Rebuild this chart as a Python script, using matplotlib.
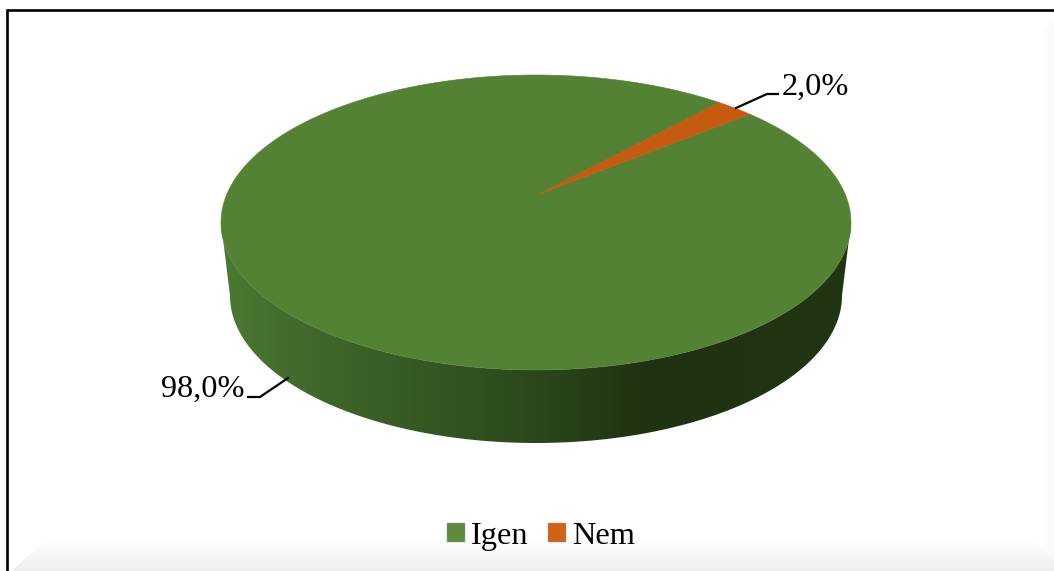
import numpy as np
import matplotlib
matplotlib.use("Agg")
import matplotlib.pyplot as plt
from matplotlib.patches import Patch, PathPatch
from matplotlib.path import Path
from matplotlib.colors import LinearSegmentedColormap

categories = ["Igen", "Nem"]
values = [98.0, 2.0]
top_colors = ["#548235", "#C55A11"]
legend_colors = ["#5C8D3D", "#D06315"]
side_stops = [(0.0, "#4C7A32"), (0.12, "#426A2B"), (0.45, "#2E4D1E"), (0.68, "#1F3212"), (1.0, "#213614")]

plt.rcParams["font.family"] = ["Liberation Serif", "DejaVu Serif"]
W, H = 1054, 571
fig = plt.figure(figsize=(W / 100, H / 100), dpi=100)
ax = fig.add_axes([0, 0, 1, 1])
ax.axis("off")

# bevelled background
yy, xx = np.mgrid[0:H, 0:W] + 0.5
bottom = np.clip((yy - 530) / 41, 0, 1) ** 1.6 * 18
bottom_mask = (yy > 571 - (xx - 12) * 0.94) & (yy - 540 > (xx - 1035) * 1.0 - 0)
right = np.clip((xx - 1038) / 16, 0, 1) * 7
right_mask = (yy > 20 + (1054 - xx)) & ~bottom_mask
shade = np.where(bottom_mask, bottom, 0.0)
shade = np.where(right_mask, np.maximum(shade, right), shade)
bg = np.clip(255 - shade, 0, 255) / 255
ax.imshow(bg, cmap="gray", vmin=0, vmax=1, extent=(0, W, H, 0), aspect="auto", zorder=0)

# frame
ax.plot([7, 7, W], [H, 10, 10], color="black", lw=1.9, zorder=1, solid_joinstyle="miter")

# pie geometry
cx, cy, rx, ry = 536.0, 222.5, 315.0, 147.5
bcx, bcy, brx, bry = 536.0, 295.5, 306.0, 147.5
apex = (538.0, 194.5)
start = 47.2


def ell(a_deg, c_x=cx, c_y=cy, r_x=rx, r_y=ry):
    a = np.radians(a_deg)
    return c_x + r_x * np.cos(a), c_y - r_y * np.sin(a)


# side wall with horizontal gradient
a_top = np.linspace(180, 360, 200)
x1, y1 = ell(a_top)
x2, y2 = ell(a_top[::-1], bcx, bcy, brx, bry)
verts = np.column_stack([np.r_[x1, x2], np.r_[y1, y2]])
wall = Path(np.vstack([verts, verts[0]]), closed=True)
cmap = LinearSegmentedColormap.from_list("side", side_stops)
grad = ax.imshow(np.linspace(0, 1, 512)[None, :], cmap=cmap, extent=(cx - rx, cx + rx, bcy + bry, cy),
                 aspect="auto", zorder=2)
clip = PathPatch(wall, transform=ax.transData, fc="none", ec="none")
ax.add_patch(clip)
grad.set_clip_path(clip)
ax.set_xlim(0, W)
ax.set_ylim(H, 0)

# top slices: Nem starts at `start`, Igen takes the rest
sweeps = [v / sum(values) * 360 for v in values]
nem_a = np.linspace(start, start + sweeps[1], 30)
igen_a = np.linspace(start + sweeps[1], start + sweeps[1] + sweeps[0], 720)
for angs, col in ((igen_a, top_colors[0]), (nem_a, top_colors[1])):
    px, py = ell(angs)
    ax.fill(np.r_[apex[0], px], np.r_[apex[1], py], color=col, lw=0.4, zorder=3)

# labels and leaders
fmt = lambda v: f"{v:.1f}%".replace(".", ",")
FS = 23.3
ax.plot([736, 767, 778], [108, 94, 94], color="black", lw=1.6, zorder=4)
ax.text(782, 87.5, fmt(values[1]), fontsize=FS, ha="left", va="center", color="black", zorder=5)
ax.plot([288, 260, 248], [378, 397, 397], color="black", lw=1.6, zorder=4)
ax.text(244.5, 389.5, fmt(values[0]), fontsize=FS, ha="right", va="center", color="black", zorder=5)

# legend
handles = [Patch(fc=c, ec="#9a9a9a", lw=0.3, label=l) for c, l in zip(legend_colors, categories)]
ax.legend(handles=handles, ncol=2, loc="center", bbox_to_anchor=(541 / W, 1 - 536.6 / H), frameon=False,
          fontsize=FS, handlelength=0.55, handleheight=0.55, handletextpad=0.2, columnspacing=0.6,
          borderpad=0, borderaxespad=0)

fig.savefig("out.png", dpi=100)
